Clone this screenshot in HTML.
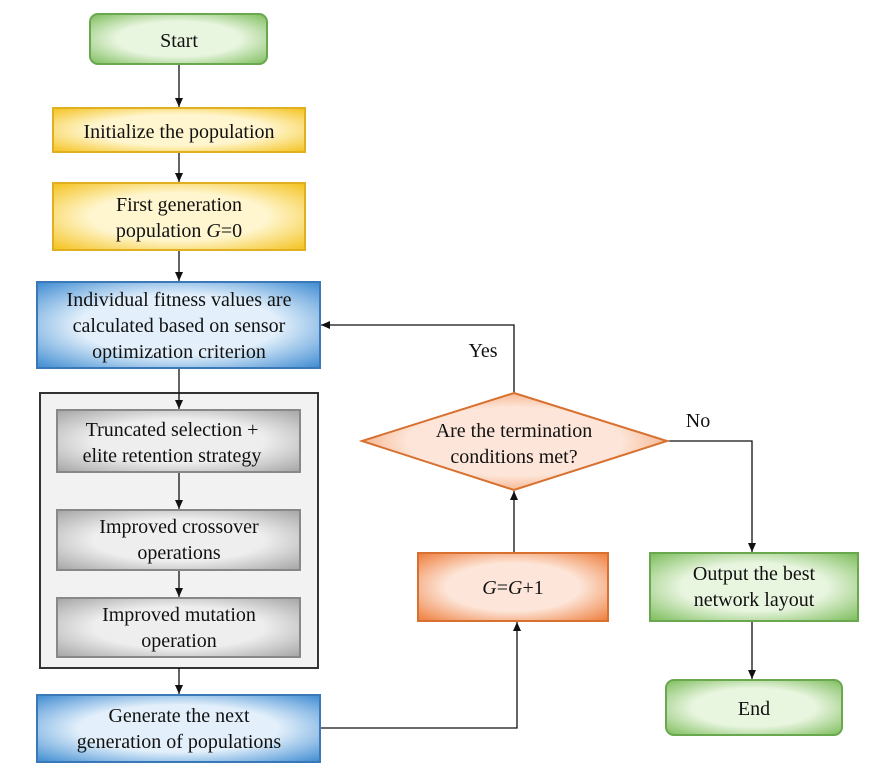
<!DOCTYPE html>
<html><head><style>body{margin:0;background:#fff}svg{display:block}text{font-family:"Liberation Serif",serif;font-size:20px;fill:#111;text-anchor:middle}</style></head><body>
<svg width="885" height="776" viewBox="0 0 885 776" xmlns="http://www.w3.org/2000/svg">
<defs>
<radialGradient id="g" r="0.7"><stop offset="0.5" stop-color="#e8f5df"/><stop offset="1" stop-color="#7dbd5c"/></radialGradient>
<radialGradient id="y" r="0.7"><stop offset="0.5" stop-color="#fff6cf"/><stop offset="1" stop-color="#f4c21e"/></radialGradient>
<radialGradient id="b" r="0.7"><stop offset="0.5" stop-color="#e3f0fb"/><stop offset="1" stop-color="#3f8cd2"/></radialGradient>
<radialGradient id="s" r="0.7"><stop offset="0.5" stop-color="#eeeeee"/><stop offset="1" stop-color="#a5a5a5"/></radialGradient>
<radialGradient id="o" r="0.7"><stop offset="0.5" stop-color="#fde6d9"/><stop offset="1" stop-color="#ee7d3c"/></radialGradient>
<marker id="a" markerWidth="10" markerHeight="10" refX="9" refY="5" orient="auto" markerUnits="userSpaceOnUse"><path d="M0,1 L9,5 L0,9 Z" fill="#111"/></marker>
</defs>
<rect x="40" y="393" width="278" height="275" fill="#f2f2f2" stroke="#333" stroke-width="2"/>
<g stroke="#111" stroke-width="1.3" fill="none">
<line x1="179" y1="64" x2="179" y2="107" marker-end="url(#a)"/>
<line x1="179" y1="152" x2="179" y2="182" marker-end="url(#a)"/>
<line x1="179" y1="250" x2="179" y2="281" marker-end="url(#a)"/>
<line x1="179" y1="368" x2="179" y2="409" marker-end="url(#a)"/>
<line x1="179" y1="472" x2="179" y2="509" marker-end="url(#a)"/>
<line x1="179" y1="570" x2="179" y2="597" marker-end="url(#a)"/>
<line x1="179" y1="668" x2="179" y2="694" marker-end="url(#a)"/>
<polyline points="514,393 514,325 321,325" marker-end="url(#a)"/>
<polyline points="667,441 752,441 752,552" marker-end="url(#a)"/>
<line x1="752" y1="621" x2="752" y2="679" marker-end="url(#a)"/>
<polyline points="320,728 517,728 517,622" marker-end="url(#a)"/>
<line x1="514" y1="553" x2="514" y2="491" marker-end="url(#a)"/>
</g>
<g stroke-width="2">
<rect x="90" y="14" width="177" height="50" rx="8" fill="url(#g)" stroke="#6aa84f"/>
<rect x="53" y="108" width="252" height="44" fill="url(#y)" stroke="#e0b020"/>
<rect x="53" y="183" width="252" height="67" fill="url(#y)" stroke="#e0b020"/>
<rect x="37" y="282" width="283" height="86" fill="url(#b)" stroke="#3a78b8"/>
<rect x="57" y="410" width="243" height="62" fill="url(#s)" stroke="#888"/>
<rect x="57" y="510" width="243" height="60" fill="url(#s)" stroke="#888"/>
<rect x="57" y="598" width="243" height="59" fill="url(#s)" stroke="#888"/>
<rect x="37" y="695" width="283" height="67" fill="url(#b)" stroke="#3a78b8"/>
<polygon points="514,393 667,441 514,490 362,441" fill="url(#o)" stroke="#d8702f"/>
<rect x="418" y="553" width="190" height="68" fill="url(#o)" stroke="#d8702f"/>
<rect x="650" y="553" width="208" height="68" fill="url(#g)" stroke="#6aa84f"/>
<rect x="666" y="680" width="176" height="55" rx="8" fill="url(#g)" stroke="#6aa84f"/>
</g>
<text x="179" y="47">Start</text>
<text x="179" y="138">Initialize the population</text>
<text x="179" y="211">First generation</text>
<text x="179" y="237">population <tspan font-style="italic">G</tspan>=0</text>
<text x="179" y="306">Individual fitness values are</text>
<text x="179" y="332">calculated based on sensor</text>
<text x="179" y="358">optimization criterion</text>
<text x="172" y="436">Truncated selection +</text>
<text x="172" y="462">elite retention strategy</text>
<text x="179" y="533">Improved crossover</text>
<text x="179" y="559">operations</text>
<text x="179" y="621">Improved mutation</text>
<text x="179" y="647">operation</text>
<text x="179" y="722">Generate the next</text>
<text x="179" y="748">generation of populations</text>
<text x="514" y="437">Are the termination</text>
<text x="514" y="463">conditions met?</text>
<text x="483" y="357">Yes</text>
<text x="698" y="427">No</text>
<text x="513" y="594"><tspan font-style="italic">G</tspan>=<tspan font-style="italic">G</tspan>+1</text>
<text x="754" y="580">Output the best</text>
<text x="754" y="606">network layout</text>
<text x="754" y="715">End</text>
</svg>
</body></html>
